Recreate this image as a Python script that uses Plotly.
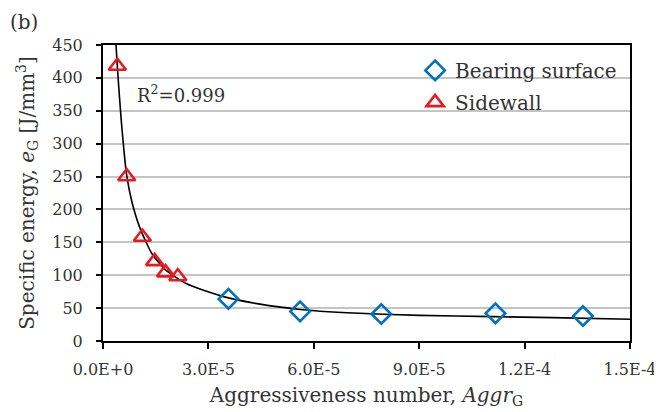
import plotly.graph_objects as go

# Data
bearing_x = [3.57e-5, 5.61e-5, 7.92e-5, 1.117e-4, 1.366e-4]
bearing_y = [64, 45, 41, 42, 38]

sidewall_x = [4.07e-6, 6.74e-6, 1.12e-5, 1.47e-5, 1.78e-5, 2.13e-5]
sidewall_y = [418, 250, 158, 121, 104, 98]

fit_x = [3.7e-6, 4.07e-6, 5.2e-6, 6.74e-6, 8.2e-6, 1.05e-5, 1.39e-5, 1.78e-5,
         2.38e-5, 3.33e-5, 4.47e-5, 5.61e-5, 6.94e-5, 9.0e-5, 1.11e-4, 1.28e-4, 1.5e-4]
fit_y = [450, 418, 335, 252, 212, 172, 133, 108,
         87, 69, 56, 48, 43, 39, 37, 35.5, 33]

x_tickvals = [0, 3e-5, 6e-5, 9e-5, 1.2e-4, 1.5e-4]
x_ticktext = ["0.0E+0", "3.0E-5", "6.0E-5", "9.0E-5", "1.2E-4", "1.5E-4"]
y_tickvals = [0, 50, 100, 150, 200, 250, 300, 350, 400, 450]

FONT = "DejaVu Serif"
TXT = "#333333"

fig = go.Figure()
fig.add_trace(go.Scatter(
    x=fit_x, y=fit_y, mode="lines", line=dict(color="black", width=1.6, shape="spline", smoothing=0.6),
    showlegend=False, hoverinfo="skip"))
fig.add_trace(go.Scatter(
    x=bearing_x, y=bearing_y, mode="markers", name="Bearing surface", legendgroup="a",
    marker=dict(symbol="diamond-open", size=15, color="#0070C0", line=dict(width=2.6, color="#0070C0"))))
fig.add_trace(go.Scatter(
    x=sidewall_x, y=sidewall_y, mode="markers", name="Sidewall", legendgroup="b",
    marker=dict(symbol="triangle-up-open", size=15, color="#E8191F", line=dict(width=2.6, color="#E8191F"))))

fig.update_layout(
    width=654, height=404,
    margin=dict(l=95, r=32, t=37, b=71),
    paper_bgcolor="white", plot_bgcolor="white",
    font=dict(family=FONT, size=16, color=TXT),
    legend=dict(x=0.985, xanchor="right", y=0.98, yanchor="top", bgcolor="rgba(0,0,0,0)",
                font=dict(size=20, color=TXT), itemwidth=30, traceorder="grouped", tracegroupgap=3),
    xaxis=dict(range=[0, 1.5e-4], tickvals=x_tickvals, ticktext=x_ticktext, automargin=False,
               showgrid=False, zeroline=False, showline=True, linecolor="black", linewidth=2,
               mirror=True, ticks="outside", ticklen=6, tickwidth=2, tickcolor="black",
               tickfont=dict(size=16, color=TXT), ticklabelstandoff=7,
               title=dict(text="Aggressiveness number, <i>Aggr</i><sub>G</sub>", font=dict(size=20, color=TXT), standoff=10)),
    yaxis=dict(range=[0, 450], tickvals=y_tickvals, automargin=False,
               showgrid=True, gridcolor="#c4c4c4", gridwidth=2, zeroline=False,
               showline=True, linecolor="black", linewidth=2, mirror=True,
               ticks="outside", ticklen=5, tickwidth=2, tickcolor="black",
               tickfont=dict(size=16, color=TXT), ticklabelstandoff=10,
               title=dict(text="Specific energy, <i>e</i><sub>G</sub> [J/mm<sup>3</sup>]", font=dict(size=20, color=TXT), standoff=12)),
)

fig.add_annotation(x=9.1e-6, y=375, xref="x", yref="y", text="R<sup>2</sup>=0.999", showarrow=False,
                   xanchor="left", yanchor="middle", font=dict(size=18, color=TXT))
fig.add_annotation(x=-0.18, y=1.125, xref="paper", yref="paper", text="(b)", showarrow=False,
                   xanchor="left", yanchor="top", font=dict(size=20, color=TXT))

fig.write_html("out.html")
